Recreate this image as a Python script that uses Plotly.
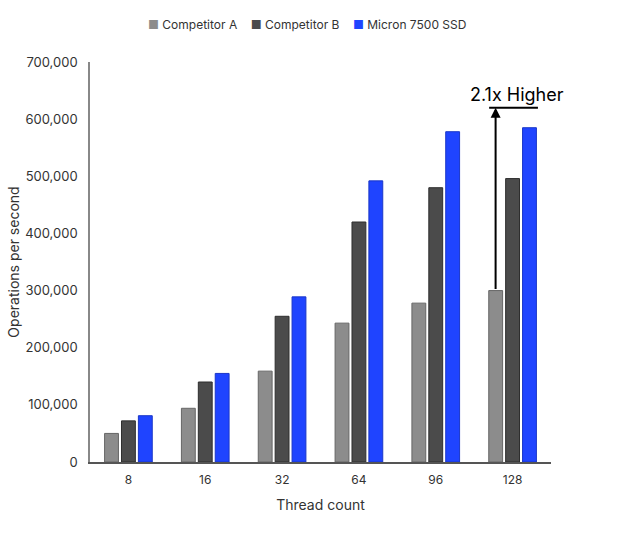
import plotly.graph_objects as go

categories = ["8", "16", "32", "64", "96", "128"]
comp_a = [50000, 94000, 159000, 243000, 278000, 300000]
comp_b = [72000, 140000, 255000, 420000, 480000, 496000]
micron = [81000, 155000, 289000, 492000, 578000, 585000]
series_names = ["Competitor A", "Competitor B", "Micron 7500 SSD"]
colors = ["#8c8c8c", "#4b4b4b", "#1f44ff"]
outlines = ["#666666", "#2e2e2e", "#1a36c8"]
annotation_text = "2.1x Higher"
arrow_top = 620000

FONT = "Inter, Roboto, sans-serif"

fig = go.Figure()
for name, vals, c, oc in zip(series_names, [comp_a, comp_b, micron], colors, outlines):
    fig.add_trace(go.Bar(x=categories, y=vals, name=name, showlegend=False,
                         marker=dict(color=c, line=dict(color=oc, width=1))))

fig.update_layout(
    width=640, height=535,
    margin=dict(l=90, r=89, t=62, b=73, autoexpand=False),
    paper_bgcolor="white", plot_bgcolor="white",
    barmode="group", bargap=0.34, bargroupgap=0.18,
    font=dict(family=FONT, size=13, color="#333333"),
    xaxis=dict(type="category", range=[-0.5, 5.5], showline=True, linecolor="#555555",
               linewidth=1.5, ticks="", showgrid=False, automargin=False, ticklabelstandoff=6,
               title=dict(text="Thread count", font=dict(size=14, color="#333333"), standoff=14),
               tickfont=dict(size=12, color="#333333")),
    yaxis=dict(range=[0, 700000], dtick=100000, tickformat=",", showline=True,
               linecolor="#888888", linewidth=1.5, showgrid=False, zeroline=False,
               ticks="", ticklabelstandoff=8, automargin=False,
               title=dict(text="Operations per second", font=dict(size=14, color="#333333"), standoff=2),
               tickfont=dict(size=13, color="#333333")),
)

# compact legend built from the series names and colours
legend_parts = [f"<span style='color:{c}'>■</span> {n}" for n, c in zip(series_names, colors)]
fig.add_annotation(x=0.47, y=1.0925, xref="paper", yref="paper", xanchor="center",
                   yanchor="middle", showarrow=False,
                   text="    ".join(legend_parts),
                   font=dict(size=12, color="#333333", family=FONT))

# arrow from top of Competitor A at 128 up to the ratio line
x_arrow = 4.779
fig.add_annotation(x=x_arrow, y=arrow_top, ax=x_arrow, ay=comp_a[-1],
                   xref="x", yref="y", axref="x", ayref="y",
                   showarrow=True, arrowhead=2, arrowsize=1, arrowwidth=2,
                   arrowcolor="black", text="")
fig.add_shape(type="line", x0=4.695, x1=5.33, y0=arrow_top, y1=arrow_top,
              xref="x", yref="y", line=dict(color="black", width=2))
fig.add_annotation(x=5.06, y=arrow_top, xref="x", yref="y", yanchor="bottom",
                   yshift=1, showarrow=False, text=annotation_text,
                   font=dict(size=18, color="black", family=FONT))

fig.write_html("out.html")
